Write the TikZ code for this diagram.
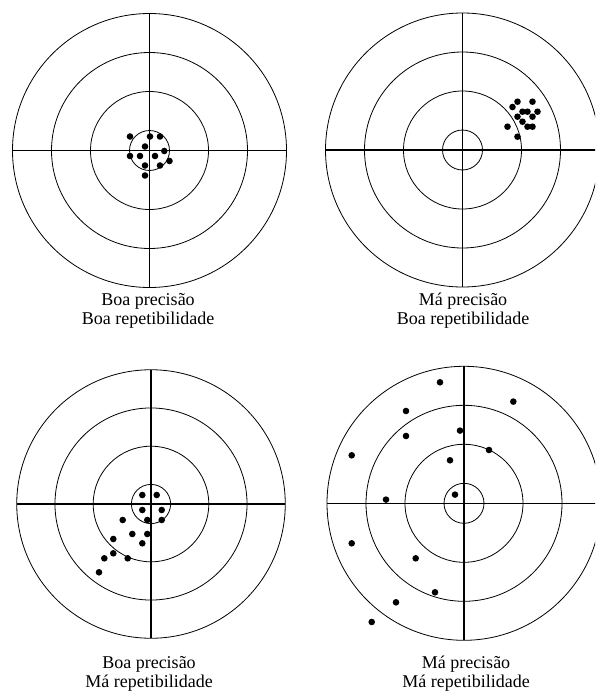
\documentclass[tikz,border=0pt]{standalone}
\usepackage{fontspec}
\setmainfont{Liberation Serif}
\usetikzlibrary{positioning}
\tikzset{
  anel/.style={draw=black,line width=0.8pt},
  mira/.style={draw=black,line width=1.1pt},
  tiro/.style={fill=black},
  rotulo/.style={font=\fontsize{18}{19}\selectfont,align=center,inner sep=0pt,anchor=north},
}
% alvo: centro x, centro y, escala
\newcommand{\alvo}[3]{%
  \begin{scope}[shift={(#1,#2)},scale=#3]
    \foreach \r in {20,59,98,137} \draw[anel] (0,0) circle (\r pt);
    \draw[mira] (-137,0) -- (137,0);
    \draw[mira] (0,-137) -- (0,137);
  \end{scope}}

\begin{document}
\begin{tikzpicture}[x=1pt,y=-1pt]
  \useasboundingbox (0,0) rectangle (595,696);
  \clip (0,0) rectangle (595,696);

  % boa precisao, boa repetibilidade
  \alvo{149.5}{150.5}{1}
  \begin{scope}[shift={(149.5,150.5)}]
    \foreach \dx/\dy in {-19.5/-14,0.5/-14,10.5/-14,-4.5/-4,14.8/0.5,-19.5/5.5,-9.5/5.5,5.5/5.5,20/10.5,-4.5/15,10.5/15,-4.5/25}
      \fill[tiro] (\dx,\dy) circle (3.3pt);
  \end{scope}
  \node[rotulo] (rotuloA) at (148,293) {Boa precisão\\Boa repetibilidade};

  % ma precisao, boa repetibilidade
  \alvo{462.5}{150}{1}
  \begin{scope}[shift={(462.5,150)}]
    \foreach \dx/\dy in {55/-48.3,70/-48.3,50/-43,60/-38.3,65/-38.3,75/-38.3,55/-33.3,70/-33.3,60/-28.3,65/-23.3,70/-23.3,45/-23.3,55/-13.3}
      \fill[tiro] (\dx,\dy) circle (3.3pt);
  \end{scope}
  \node[rotulo] (rotuloB) at (463,293) {Má precisão\\Boa repetibilidade};

  % boa precisao, ma repetibilidade
  \alvo{151}{504}{0.98}
  \begin{scope}[shift={(151,504)}]
    \foreach \dx/\dy in {-8.7/-9,5.7/-9,-8.7/6,10.7/6,-3.7/16,10.7/16,-28.3/16,-18.7/30,-3.7/30,-37.7/35,-8.7/39.3,-37.7/49.3,-46.7/54.3,-23.3/54.3,-52/68.3}
      \fill[tiro] (\dx,\dy) circle (3.3pt);
  \end{scope}
  \node[rotulo] (rotuloC) at (149,656) {Boa precisão\\Má repetibilidade};

  % ma precisao, ma repetibilidade
  \alvo{464}{503.3}{1}
  \begin{scope}[shift={(464,503.3)}]
    \foreach \dx/\dy in {-24/-121,49.3/-101.7,-58/-92.3,-4/-72.7,-58/-67.3,25/-53.3,-112.3/-48,-14/-43,-9/-8.7,-78/-3.7,-112.3/40,-48.3/55,-29/89,-68/99,-92.3/118.7}
      \fill[tiro] (\dx,\dy) circle (3.3pt);
  \end{scope}
  \node[rotulo] (rotuloD) at (466,656) {Má precisão\\Má repetibilidade};
\end{tikzpicture}
\end{document}
